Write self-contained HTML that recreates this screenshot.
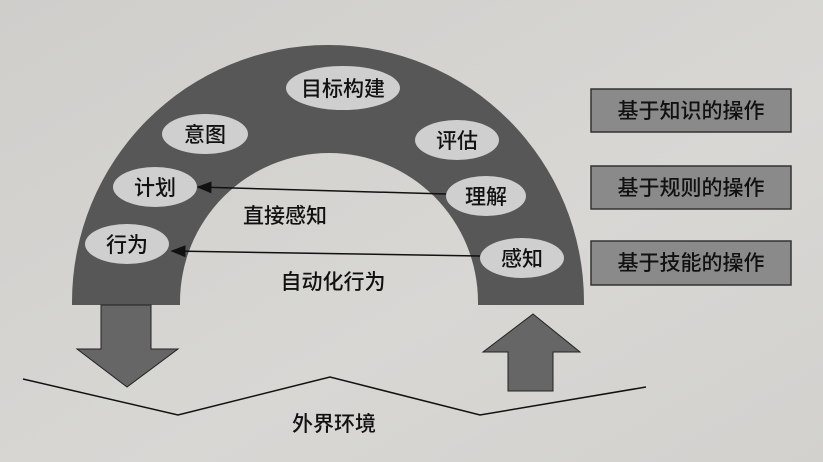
<!DOCTYPE html>
<html><head><meta charset="utf-8"><style>
html,body{margin:0;padding:0;width:823px;height:462px;overflow:hidden;background:#d4d3d0}
svg text{font-family:"Liberation Sans","Noto Sans CJK SC",sans-serif;fill:#111;font-weight:500}
</style></head><body>
<svg width="823" height="462" viewBox="0 0 823 462">
<defs><linearGradient id="bg" x1="0" y1="0" x2="1" y2="1"><stop offset="0" stop-color="#cfcecb"/><stop offset="0.6" stop-color="#d8d7d4"/><stop offset="1" stop-color="#d2d1ce"/></linearGradient>
<marker id="ah" markerWidth="10" markerHeight="8" refX="9" refY="4" orient="auto"><path d="M0,0 L10,4 L0,8 Z" fill="#111"/></marker></defs>
<rect width="823" height="462" fill="url(#bg)"/>
<path d="M72,305 L72,302 A256,257 0 0 1 584,302 L584,305 L478,305 L478,302 A149,149 0 0 0 180,302 L180,305 Z" fill="#575757"/>
<g fill="#cfcfcf">
<ellipse cx="343" cy="88" rx="57" ry="22"/>
<ellipse cx="205" cy="134" rx="43" ry="20"/>
<ellipse cx="457" cy="140" rx="42" ry="20"/>
<ellipse cx="155" cy="187" rx="42" ry="20"/>
<ellipse cx="486" cy="196" rx="40" ry="20"/>
<ellipse cx="127" cy="244" rx="42" ry="20"/>
<ellipse cx="522" cy="258" rx="42" ry="20"/>
</g>
<g font-size="21" text-anchor="middle">
<text x="343" y="96">目标构建</text>
<text x="205" y="142">意图</text>
<text x="457" y="148">评估</text>
<text x="155" y="195">计划</text>
<text x="486" y="204">理解</text>
<text x="127" y="252">行为</text>
<text x="522" y="266">感知</text>
<text x="285" y="223">直接感知</text>
<text x="333" y="289">自动化行为</text>
<text x="334" y="431">外界环境</text>
</g>
<line x1="446" y1="194" x2="198" y2="187" stroke="#111" stroke-width="1.5" marker-end="url(#ah)"/>
<line x1="480" y1="256" x2="172" y2="251" stroke="#111" stroke-width="1.5" marker-end="url(#ah)"/>
<g fill="#8a8a8a" stroke="#333" stroke-width="1.5">
<rect x="591" y="89" width="200" height="43"/>
<rect x="591" y="166" width="200" height="43"/>
<rect x="591" y="241" width="200" height="44"/>
</g>
<g font-size="21" text-anchor="middle">
<text x="691" y="118">基于知识的操作</text>
<text x="691" y="195">基于规则的操作</text>
<text x="691" y="270">基于技能的操作</text>
</g>
<path d="M101,305 L151,305 L151,349 L178,349 L127,387 L77,349 L101,349 Z" fill="#666" stroke="#222" stroke-width="1"/>
<path d="M533,314 L580,352 L553,352 L553,391 L508,391 L508,352 L483,352 Z" fill="#666" stroke="#222" stroke-width="1"/>
<polyline points="23,379 178,415 330,377 480,415 646,387" fill="none" stroke="#111" stroke-width="1.5"/>
</svg>
</body></html>
